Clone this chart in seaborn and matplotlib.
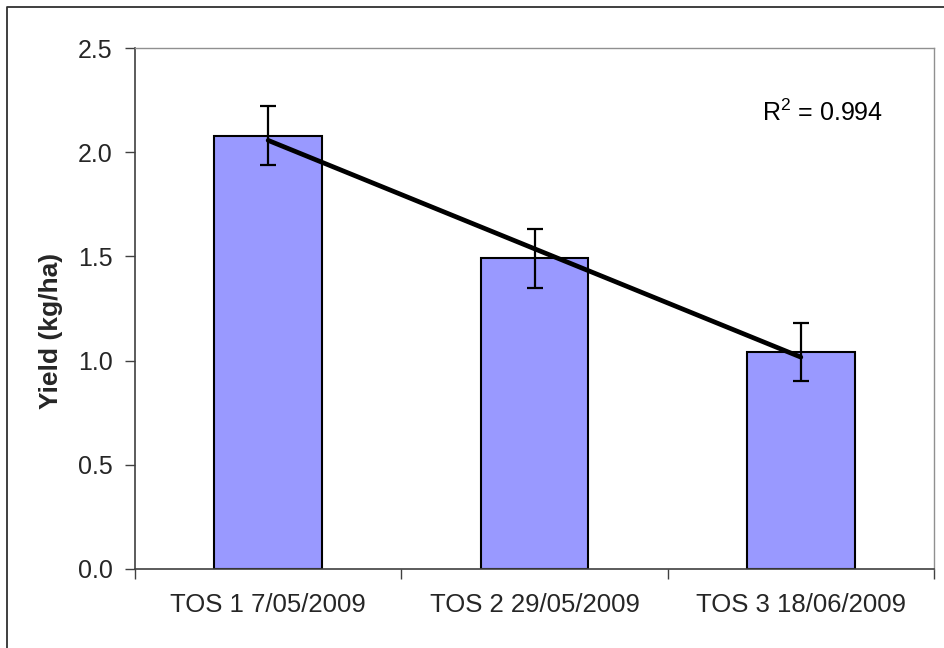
import numpy as np
import pandas as pd
import matplotlib
matplotlib.use("Agg")
import matplotlib.pyplot as plt
import seaborn as sns
from matplotlib.lines import Line2D

categories = ["TOS 1 7/05/2009", "TOS 2 29/05/2009", "TOS 3 18/06/2009"]
yields = [2.08, 1.49, 1.04]
errors = [0.14, 0.14, 0.14]
r2_label = "R$^2$ = 0.994"
y_ticks = [0.0, 0.5, 1.0, 1.5, 2.0, 2.5]

sns.set_theme(style="white")
plt.rcParams['font.family'] = ['Liberation Sans', 'DejaVu Sans']
plt.rcParams['mathtext.fontset'] = 'custom'
plt.rcParams['mathtext.rm'] = 'Liberation Sans'

df = pd.DataFrame({"cat": categories, "yield": yields})

fig = plt.figure(figsize=(9.44, 6.48), dpi=100)
ax = fig.add_axes([135/944, 1-569/648, (934-135)/944, (569-48)/648])

sns.barplot(data=df, x="cat", y="yield", ax=ax, color="#9999FF",
            saturation=1, width=0.405, edgecolor="black", linewidth=1.5,
            errorbar=None, zorder=2)

xs = np.arange(len(categories))
ax.errorbar(xs, yields, yerr=errors, fmt="none", ecolor="black",
            elinewidth=1.6, capsize=5.8, capthick=1.6, zorder=3)

coef = np.polyfit(xs, yields, 1)
ax.plot(xs, np.polyval(coef, xs), color="black", linewidth=3.4,
        solid_capstyle="round", zorder=4)

ax.text(2.08, 2.19, r2_label, fontsize=18, ha="center", va="center", color="black")

ax.set_xlim(-0.5, 2.5)
ax.set_ylim(0, 2.5)
ax.set_yticks(y_ticks)
ax.set_yticklabels([f"{v:.1f}" for v in y_ticks], fontsize=18)
ax.set_xticks([-0.5, 0.5, 1.5, 2.5], minor=False)
ax.set_xticklabels([])
ax.set_xticks(xs, minor=True)
ax.set_xticklabels(categories, minor=True, fontsize=18.5)
ax.tick_params(axis="x", which="minor", length=0, pad=17.5)
ax.tick_params(axis="x", which="major", length=7, width=1, color="#404040", direction="out", bottom=True)
ax.tick_params(axis="y", length=7, width=1, color="#404040", direction="out", left=True, pad=9)
ax.set_xlabel("")
ax.set_ylabel("Yield (kg/ha)", fontsize=19, fontweight="bold", labelpad=11)
ax.yaxis.label.set_y(0.457)

for side in ["left", "bottom"]:
    ax.spines[side].set_color("#404040")
    ax.spines[side].set_linewidth(1.2)
for side in ["top", "right"]:
    ax.spines[side].set_color("#909090")
    ax.spines[side].set_linewidth(1.0)
ax.grid(False)

fig.lines.append(Line2D([6.5/944, 6.5/944, 1.0], [0.0, 1-6.5/648, 1-6.5/648],
                        transform=fig.transFigure, color="#303030", linewidth=1.3))

fig.savefig("out.png", dpi=100, facecolor="white")
